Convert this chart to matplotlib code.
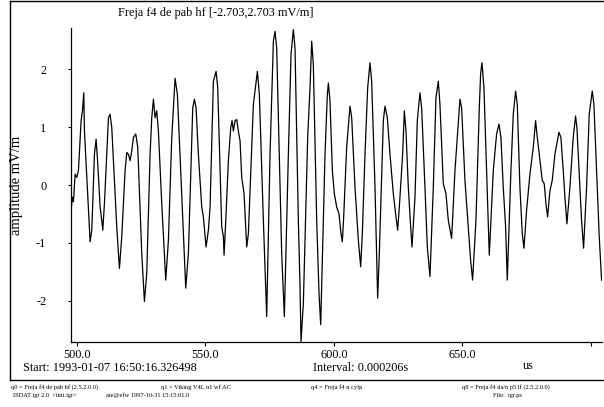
import matplotlib
matplotlib.use("Agg")
import matplotlib.pyplot as plt
from matplotlib.lines import Line2D

plt.rcParams['font.family'] = ['Liberation Serif', 'DejaVu Serif']

# time (us) and amplitude (mV/m)
t_us = [
    497.73, 498.38, 498.77, 499.42, 500.07, 500.71, 501.75, 502.27, 502.79, 503.05,
    505.25, 505.90, 506.93, 507.58, 508.23, 509.14, 509.78, 510.17, 510.82, 512.38,
    513.02, 513.67, 515.61, 516.65, 517.56, 518.85, 519.50, 520.15, 520.80, 521.45,
    522.09, 523.00, 523.78, 525.33, 526.37, 527.28, 528.57, 529.22, 529.87, 530.52,
    531.16, 531.81, 533.11, 534.66, 535.70, 537.00,
    538.29, 539.20, 542.44, 543.47, 545.16, 545.81, 546.45, 547.36, 548.66, 549.30,
    550.34, 551.25, 551.90, 553.19, 554.23, 554.88, 556.43, 557.08, 557.34, 558.12,
    559.02, 559.93, 560.45, 560.97, 561.61, 562.26, 562.91, 563.56, 564.21, 565.11,
    566.15, 566.80, 568.74, 570.30, 571.07, 572.63, 573.92, 575.22, 576.52, 577.16,
    577.81,
    579.11, 579.75, 580.79, 582.35, 583.38, 584.29, 584.94, 586.23, 586.88, 587.27,
    588.18, 589.86, 590.77, 591.42, 592.06, 593.36, 594.27, 594.92, 596.60, 597.51,
    597.90, 598.54, 599.45, 600.23, 601.14, 602.04, 602.82, 603.34, 603.86, 605.02,
    606.32, 606.97, 608.26, 609.56, 610.47, 611.11, 612.15, 613.19, 614.09, 614.74,
    616.04, 617.07, 617.72, 619.28,
    619.92, 620.83, 621.87, 623.16, 624.20, 624.85, 625.50, 626.79, 627.44, 628.09,
    628.99, 629.90, 630.42, 631.59, 632.49, 633.53, 634.18, 635.47, 636.38, 637.42,
    638.71, 639.75, 640.66, 641.30, 642.60, 643.64, 644.54, 645.84, 647.14, 649.08,
    649.73, 651.02, 652.32, 653.23, 654.00, 655.30, 656.60, 657.11, 657.63, 658.41,
    659.45,
    660.48, 662.04, 663.33, 664.24, 665.02, 665.92, 666.83, 667.48, 668.90, 669.81,
    670.72, 671.37, 672.40, 673.31, 673.96, 674.99, 676.29, 677.59, 678.49, 679.01,
    680.18, 681.08, 681.86, 682.51, 683.16, 684.06, 684.97, 686.01, 687.56, 688.34,
    689.25, 689.90, 690.67, 691.84, 693.13, 694.04, 694.56, 695.73, 696.37, 697.15,
    698.32, 699.35, 700.52, 701.17, 702.20, 703.24, 704.15,
]
amp_mVm = [
    -0.47, -0.21, -0.29, 0.19, 0.13, 0.25, 1.11, 1.28, 1.59, 0.93,
    -0.98, -0.78, 0.53, 0.79, 0.36, -0.38, -0.61, -0.78, -0.32, 1.16,
    1.22, 0.99, -0.72, -1.44, -0.89, 0.25, 0.56, 0.53, 0.42, 0.59,
    0.82, 0.88, 0.65, -1.18, -2.01, -1.52, 0.53, 1.16, 1.48, 1.16,
    1.28, 0.93, -0.32, -1.64, -0.95, 0.82,
    1.84, 1.56, -1.78, -1.18, 1.33, 1.48, 1.33, 0.53, -0.38, -0.55,
    -1.07, -0.78, -0.38, 1.79, 1.96, 1.68, -0.72, -0.89, -1.21, -0.50,
    0.42, 0.99, 1.11, 0.93, 1.11, 1.13, 0.93, 0.76, 0.13, -0.15,
    -1.07, -0.84, 1.39, 1.96, 1.56, -0.61, -2.27, 0.53, 2.48, 2.65,
    2.36,
    -0.04, -1.18, -2.27, 0.53, 2.25, 2.68, 2.36, -0.61, -1.75, -2.70,
    -2.04, 0.82, 1.68, 2.48, 2.08, -0.61, -1.87, -2.41, 0.53, 1.56,
    1.76, 1.45, 0.25, -0.15, -0.38, -0.50, -0.84, -0.98, -0.55, 0.65,
    1.36, 1.16, -0.04, -0.95, -1.41, -0.84, 0.53, 1.68, 2.11, 1.79,
    -0.04, -1.95, -1.18, 1.11,
    1.36, 1.16, 0.53, -0.15, -0.55, -0.78, -0.38, 0.53, 1.28, 0.93,
    -0.04, -0.72, -1.07, -0.21, 1.11, 1.59, 1.33, -0.04, -1.07, -1.58,
    -0.04, 1.51, 1.79, 1.39, 0.02, -0.15, -0.61, -0.92, 0.25, 1.48,
    1.33, 0.08, -0.72, -1.30, -1.64, -0.61, 1.33, 1.91, 2.11, 1.68,
    0.25,
    -1.21, 0.25, 0.88, 1.05, 0.82, -0.04, -0.72, -1.64, 0.25, 1.22,
    1.62, 1.39, -0.04, -0.84, -1.09, -0.44, 0.19, 0.65, 1.11, 0.88,
    0.42, 0.08, 0.02, -0.32, -0.55, -0.10, 0.08, 0.53, 0.91, 0.82,
    0.25, -0.21, -0.67, -0.04, 0.82, 1.19, 0.99, -0.04, -0.61, -1.09,
    -0.04, 1.22, 1.62, 1.39, 0.25, -0.89, -1.64,
]

x_ticks = [500, 550, 600, 650, 700]
x_tick_labels = ["500.0", "550.0", "600.0", "650.0", ""]
y_ticks = [-2, -1, 0, 1, 2]
y_tick_labels = ["-2", "-1", "0", "1", "2"]

W, H = 604, 407
fig = plt.figure(figsize=(W / 100, H / 100), dpi=100)

def fx(px):
    return px / W

def fy(py):
    return 1 - py / H

ax = fig.add_axes([fx(70.7), fy(341.7), fx(601.7) - fx(70.7), fy(28.3) - fy(341.7)])
ax.plot(t_us, amp_mVm, color='black', lw=0.9)
ax.set_xlim(497.7, 704.2)
ax.set_ylim(-2.703, 2.703)
for s in ['top', 'right']:
    ax.spines[s].set_visible(False)
for s in ['left', 'bottom']:
    ax.spines[s].set_linewidth(0.9)
ax.set_xticks(x_ticks)
ax.set_xticklabels(x_tick_labels)
ax.set_yticks(y_ticks)
ax.set_yticklabels(y_tick_labels)
ax.tick_params(axis='x', direction='out', length=3, width=0.8, pad=2, labelsize=8.8)
ax.tick_params(axis='y', direction='out', length=2.5, width=0.8, pad=15, labelsize=8.8)

fig.text(fx(17), fy(185), "amplitude mV/m", rotation=90, ha='center', va='center', fontsize=10.5)
fig.text(fx(118), fy(13), "Freja f4 de pab hf [-2.703,2.703 mV/m]", ha='left', va='center', fontsize=8.8)
fig.text(fx(22.7), fy(368), "Start: 1993-01-07 16:50:16.326498", ha='left', va='center', fontsize=8.8)
fig.text(fx(312.7), fy(368), "Interval: 0.000206s", ha='left', va='center', fontsize=8.8)
fig.text(fx(523), fy(366), "us", ha='left', va='center', fontsize=8.8)

fs_small = 4.6
fig.text(fx(10.7), fy(386.7), "q0 = Freja f4 de pab hf (2.5.2.0.0)", ha='left', va='center', fontsize=fs_small)
fig.text(fx(161), fy(386.7), "q1 = Viking V4L n1 wf AC", ha='left', va='center', fontsize=fs_small)
fig.text(fx(311), fy(386.7), "q4 = Freja f4 n cylp", ha='left', va='center', fontsize=fs_small)
fig.text(fx(461.7), fy(386.7), "q8 = Freja f4 da/n p5 lf (2.5.2.0.0)", ha='left', va='center', fontsize=fs_small)
fig.text(fx(13.3), fy(395), "ISDAT igr 2.0  <init.igr>", ha='left', va='center', fontsize=fs_small)
fig.text(fx(106), fy(395), "aie@efw 1997-10-31 15:15:01.0", ha='left', va='center', fontsize=fs_small)
fig.text(fx(492.7), fy(395), "File:  igr.ps", ha='left', va='center', fontsize=fs_small)

# outer frame
for (x0, y0, x1, y1) in [(10, 1, 606, 1), (10, 1, 10, 380), (10, 380, 606, 380)]:
    fig.add_artist(Line2D([fx(x0), fx(x1)], [fy(y0), fy(y1)], color='black', lw=1.0,
                          transform=fig.transFigure))

fig.savefig("out.png", dpi=100)
